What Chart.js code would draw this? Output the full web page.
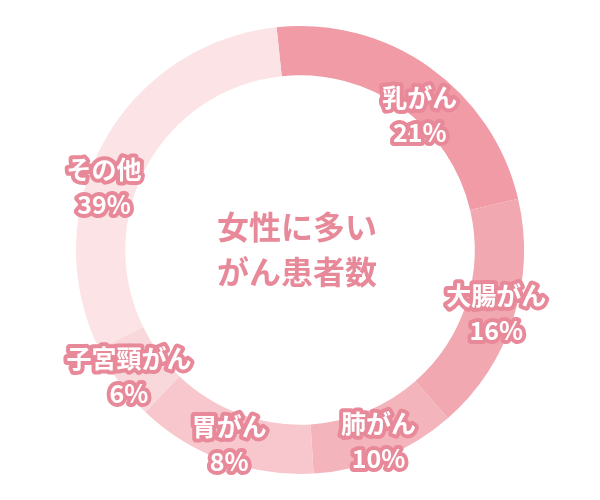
<!DOCTYPE html>
<html>
<head>
<meta charset="utf-8">
<script src="https://cdn.jsdelivr.net/npm/chart.js@4.4.1/dist/chart.umd.min.js"></script>
<style>
    html, body { margin: 0; padding: 0; background: #ffffff; }
    #wrap { width: 600px; height: 500px; }
</style>
</head>
<body>
<div id="wrap"><canvas id="chart"></canvas></div>
<script>
const categories = ["乳がん", "大腸がん", "肺がん", "胃がん", "子宮頸がん", "その他"];
// percentages printed on the labels
const percentLabels = [21, 16, 10, 8, 6, 39];
// arc sizes as drawn in the picture (they do not follow the printed numbers)
const arcShares = [23, 17.2, 10.5, 13.1, 5.6, 30.6];
const centerLines = ["女性に多い", "がん患者数"];

const sliceColors = ["#f09ba6", "#f2a8b1", "#f4b4bc", "#f7c7cd", "#f9d8dc", "#fbe3e6"];
const textPink = "#e8899a";
const labelFont = "bold 25px 'Noto Sans CJK JP', sans-serif";
const centerFont = "bold 32px 'Noto Sans CJK JP', sans-serif";

// small per-label nudges (radius px, angle deg) so labels sit like the original
const labelNudge = [
    { dr: -25, da: 6 },
    { dr: 0, da: 0 },
    { dr: 0, da: 0 },
    { dr: 0, da: 0 },
    { dr: 6, da: 0 },
    { dr: 0, da: -11 }
];

const labelPlugin = {
    id: "ringLabels",
    afterDatasetsDraw(chart) {
        const ctx = chart.ctx;
        const arcs = chart.getDatasetMeta(0).data;
        ctx.save();
        ctx.textAlign = "center";
        ctx.textBaseline = "middle";
        ctx.lineJoin = "round";

        // center title
        const first = arcs[0];
        ctx.font = centerFont;
        ctx.fillStyle = textPink;
        centerLines.forEach((line, i) => {
            ctx.fillText(line, first.x - 3, first.y - 23 + i * 45);
        });

        // slice labels
        ctx.font = labelFont;
        arcs.forEach((arc, i) => {
            const mid = (arc.startAngle + arc.endAngle) / 2 + labelNudge[i].da * Math.PI / 180;
            const r = arc.outerRadius - 18 + labelNudge[i].dr;
            const cx = arc.x + Math.cos(mid) * r;
            const cy = arc.y + Math.sin(mid) * r;
            const lines = [categories[i], percentLabels[i] + "%"];
            lines.forEach((text, j) => {
                const y = cy - 17 + j * 35;
                ctx.lineWidth = 8;
                ctx.strokeStyle = textPink;
                ctx.strokeText(text, cx, y);
                ctx.fillStyle = "#ffffff";
                ctx.fillText(text, cx, y);
            });
        });
        ctx.restore();
    }
};

const config = {
    type: "doughnut",
    data: {
        labels: categories,
        datasets: [
            {
                data: arcShares,
                backgroundColor: sliceColors,
                borderWidth: 0,
                hoverOffset: 0
            }
        ]
    },
    options: {
        responsive: true,
        maintainAspectRatio: false,
        animation: false,
        rotation: -6,
        cutout: "78%",
        layout: {
            padding: 26
        },
        plugins: {
            legend: { display: false },
            tooltip: { enabled: false },
            title: { display: false }
        }
    },
    plugins: [labelPlugin]
};

new Chart(document.getElementById("chart"), config);
</script>
</body>
</html>
